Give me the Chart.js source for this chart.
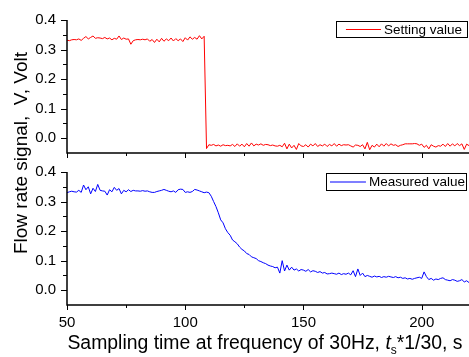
<!DOCTYPE html>
<html>
<head>
<meta charset="utf-8">
<script src="https://cdn.jsdelivr.net/npm/chart.js@4.4.0/dist/chart.umd.min.js"></script>
<style>
  html, body { margin: 0; padding: 0; background: #fff; }
  #wrap { position: relative; width: 469px; height: 357px; overflow: hidden;
          font-family: 'Liberation Sans', Arial, sans-serif; color: #000; }
  #wrap canvas { position: absolute; left: 0; top: 0; }
  .ytitle { position: absolute; left: -109.5px; top: 141px; width: 260px; height: 24px;
            line-height: 24px; text-align: center; font-size: 19px; white-space: pre;
            transform: rotate(-90deg); }
  .xtitle { position: absolute; left: 45px; top: 330px; width: 440px; height: 24px;
            line-height: 24px; text-align: center; font-size: 19.4px; white-space: pre; }
  .xtitle sub { font-size: 12px; vertical-align: -5px; line-height: 0; }
</style>
</head>
<body>
<div id="wrap">
  <canvas id="topChart" width="469" height="357"></canvas>
  <canvas id="bottomChart" width="469" height="357"></canvas>
  <div class="ytitle">Flow rate signal,  V, Volt</div>
  <div class="xtitle">Sampling time at frequency of 30Hz, <i>t</i><sub>s</sub>*1/30, s</div>
</div>
<script>
// ---- data ----
const TIME = [
  50, 51, 52, 53, 54, 55, 56, 57, 58, 59, 60, 61, 62, 63, 64, 65, 66, 67, 68, 69,
  70, 71, 72, 73, 74, 75, 76, 77, 78, 79, 80, 81, 82, 83, 84, 85, 86, 87, 88, 89,
  90, 91, 92, 93, 94, 95, 96, 97, 98, 99, 100, 101, 102, 103, 104, 105, 106, 107, 108, 109,
  110, 111, 112, 113, 114, 115, 116, 117, 118, 119, 120, 121, 122, 123, 124, 125, 126, 127, 128, 129,
  130, 131, 132, 133, 134, 135, 136, 137, 138, 139, 140, 141, 142, 143, 144, 145, 146, 147, 148, 149,
  150, 151, 152, 153, 154, 155, 156, 157, 158, 159, 160, 161, 162, 163, 164, 165, 166, 167, 168, 169,
  170, 171, 172, 173, 174, 175, 176, 177, 178, 179, 180, 181, 182, 183, 184, 185, 186, 187, 188, 189,
  190, 191, 192, 193, 194, 195, 196, 197, 198, 199, 200, 201, 202, 203, 204, 205, 206, 207, 208, 209,
  210, 211, 212, 213, 214, 215, 216, 217, 218, 219, 220
];

const SETTING = [
  0.332, 0.330, 0.333, 0.334, 0.333, 0.336, 0.331, 0.338, 0.344, 0.336,
  0.341, 0.346, 0.338, 0.340, 0.339, 0.337, 0.341, 0.336, 0.339, 0.333,
  0.338, 0.335, 0.346, 0.334, 0.339, 0.335, 0.336, 0.318, 0.330, 0.333,
  0.334, 0.333, 0.335, 0.333, 0.336, 0.328, 0.334, 0.324, 0.335, 0.326,
  0.338, 0.328, 0.336, 0.330, 0.339, 0.329, 0.337, 0.330, 0.336, 0.327,
  0.340, 0.332, 0.343, 0.335, 0.341, 0.335, 0.347, 0.336, 0.345,
  -0.035,
  -0.022, -0.024, -0.021, -0.026, -0.023, -0.027, -0.022, -0.025, -0.024, -0.026,
  -0.021, -0.028, -0.019, -0.027, -0.020, -0.029, -0.018, -0.027, -0.016, -0.026,
  -0.020, -0.023, -0.019, -0.024, -0.021, -0.022, -0.025, -0.023, -0.026, -0.027,
  -0.024, -0.029, -0.017, -0.036, -0.020, -0.033, -0.024, -0.038, -0.018, -0.026,
  -0.028, -0.022, -0.030, -0.020, -0.026, -0.018, -0.028, -0.022, -0.026, -0.020,
  -0.028, -0.021, -0.026, -0.018, -0.027, -0.020, -0.025, -0.022, -0.023, -0.022,
  -0.026, -0.030, -0.023, -0.024, -0.028, -0.022, -0.036, -0.014, -0.039, -0.024,
  -0.030, -0.020, -0.029, -0.019, -0.027, -0.018, -0.026, -0.019, -0.024, -0.022,
  -0.028, -0.024, -0.022, -0.019, -0.019, -0.019, -0.019, -0.018, -0.019, -0.024,
  -0.020, -0.031, -0.024, -0.036, -0.022, -0.027, -0.030, -0.025, -0.027, -0.020,
  -0.028, -0.018, -0.027, -0.019, -0.026, -0.018, -0.025, -0.019, -0.038, -0.020, -0.025
];

const MEASURED = [
  0.330, 0.333, 0.335, 0.333, 0.332, 0.338, 0.331, 0.356, 0.340, 0.350,
  0.326, 0.345, 0.334, 0.358, 0.338, 0.336, 0.335, 0.322, 0.340, 0.333,
  0.348, 0.338, 0.344, 0.326, 0.338, 0.333, 0.340, 0.334, 0.338, 0.336,
  0.336, 0.335, 0.337, 0.335, 0.336, 0.333, 0.331, 0.331, 0.334, 0.336,
  0.338, 0.341, 0.338, 0.335, 0.333, 0.336, 0.331, 0.340, 0.342, 0.341,
  0.331, 0.333, 0.331, 0.334, 0.341, 0.339, 0.336, 0.333, 0.330, 0.332,
  0.330, 0.318, 0.300, 0.283, 0.262, 0.238, 0.228, 0.208, 0.195, 0.186,
  0.170, 0.164, 0.157, 0.146, 0.138, 0.133, 0.124, 0.121, 0.113, 0.110,
  0.107, 0.100, 0.097, 0.093, 0.090, 0.085, 0.082, 0.080, 0.076, 0.078,
  0.058, 0.100, 0.065, 0.085, 0.068, 0.078, 0.068, 0.072, 0.065, 0.070,
  0.068, 0.064, 0.070, 0.062, 0.066, 0.064, 0.060, 0.063, 0.058, 0.060,
  0.055, 0.056, 0.058, 0.056, 0.054, 0.058, 0.053, 0.056, 0.054, 0.058,
  0.052, 0.066, 0.046, 0.072, 0.050, 0.058, 0.046, 0.050, 0.047, 0.044,
  0.048, 0.045, 0.047, 0.043, 0.046, 0.044, 0.047, 0.045, 0.043, 0.046,
  0.042, 0.044, 0.040, 0.042, 0.038, 0.040, 0.037, 0.040, 0.042, 0.044,
  0.040, 0.062, 0.046, 0.036, 0.040, 0.034, 0.038, 0.036, 0.040, 0.042,
  0.036, 0.034, 0.032, 0.036, 0.034, 0.030, 0.032, 0.036, 0.028, 0.032, 0.026
];

const X_TICKS = [50, 100, 150, 200];
const X_MINOR = [75, 125, 175];
const Y_TICKS = [0.0, 0.1, 0.2, 0.3, 0.4];
const Y_MINOR = [0.05, 0.15, 0.25, 0.35];

// ---- layout ----
const H = 357;
const FONT = "'Liberation Sans', Arial, sans-serif";

// Origin-style L axes with major / minor tick marks
const originAxes = {
  id: 'originAxes',
  afterDraw(chart) {
    const { ctx, chartArea: a, scales: { x, y } } = chart;
    ctx.save();
    ctx.strokeStyle = '#000';
    ctx.lineWidth = 1;
    ctx.beginPath();
    X_TICKS.forEach(v => { const p = Math.round(x.getPixelForValue(v)) + 0.5; ctx.moveTo(p, a.bottom); ctx.lineTo(p, a.bottom + 5); });
    X_MINOR.forEach(v => { const p = Math.round(x.getPixelForValue(v)) + 0.5; ctx.moveTo(p, a.bottom); ctx.lineTo(p, a.bottom + 3); });
    Y_TICKS.forEach(v => { const p = Math.round(y.getPixelForValue(v)) + 0.5; ctx.moveTo(a.left, p); ctx.lineTo(a.left - 6, p); });
    Y_MINOR.forEach(v => { const p = Math.round(y.getPixelForValue(v)) + 0.5; ctx.moveTo(a.left, p); ctx.lineTo(a.left - 4, p); });
    ctx.stroke();
    ctx.lineWidth = 1.5;
    ctx.beginPath();
    ctx.moveTo(a.left, a.top);
    ctx.lineTo(a.left, a.bottom);
    ctx.lineTo(a.right, a.bottom);
    ctx.stroke();
    ctx.restore();
  }
};

// boxed legend in the top right corner of the plot
const boxLegend = {
  id: 'boxLegend',
  afterDraw(chart, args, o) {
    const ds = chart.data.datasets[0];
    const { ctx, chartArea: a } = chart;
    ctx.save();
    ctx.font = '13.5px ' + FONT;
    const tw = ctx.measureText(ds.label).width;
    const w = o.padL + o.sample + o.gap + tw + o.padR;
    const right = a.right - o.dx, top = a.top + o.dy;
    const left = right - w;
    ctx.fillStyle = '#fff';
    ctx.fillRect(left, top, w, o.h);
    ctx.strokeStyle = '#000';
    ctx.lineWidth = 1;
    ctx.strokeRect(Math.round(left) + 0.5, top + 0.5, Math.round(w) - 1, o.h - 1);
    const cy = top + o.h / 2;
    ctx.strokeStyle = ds.borderColor;
    ctx.lineWidth = 1.2;
    ctx.beginPath();
    ctx.moveTo(left + o.padL, cy);
    ctx.lineTo(left + o.padL + o.sample, cy);
    ctx.stroke();
    ctx.fillStyle = '#000';
    ctx.textBaseline = 'middle';
    ctx.fillText(ds.label, left + o.padL + o.sample + o.gap, cy + 0.5);
    ctx.restore();
  }
};

function makePanel(id, label, values, color, area, showXLabels, legend) {
  return new Chart(document.getElementById(id), {
    type: 'line',
    data: {
      datasets: [{
        label,
        data: TIME.map((t, i) => ({ x: t, y: values[i] })),
        borderColor: color,
        borderWidth: 1,
        pointRadius: 0,
        tension: 0,
        fill: false,
      }],
    },
    options: {
      responsive: false,
      animation: false,
      events: [],
      layout: { padding: { left: 0, right: 0, top: area.top, bottom: H - area.bottom - area.xh } },
      scales: {
        x: {
          type: 'linear', min: 50, max: 220,
          afterBuildTicks: s => { s.ticks = X_TICKS.map(v => ({ value: v })); },
          afterFit: s => { s.height = area.xh; },
          grid: { display: false, drawTicks: false },
          border: { display: false },
          ticks: { display: showXLabels, padding: 9, color: '#000', maxRotation: 0, autoSkip: false,
                   font: { family: FONT, size: 15 } },
        },
        y: {
          type: 'linear', min: -0.05, max: 0.4,
          afterBuildTicks: s => { s.ticks = Y_TICKS.map(v => ({ value: v })); },
          afterFit: s => { s.width = 67; },
          grid: { display: false, drawTicks: false },
          border: { display: false },
          ticks: { padding: 11, color: '#000', callback: v => v.toFixed(1),
                   font: { family: FONT, size: 15 } },
        },
      },
      plugins: {
        legend: { display: false },
        tooltip: { enabled: false },
        boxLegend: legend,
      },
    },
    plugins: [originAxes, boxLegend],
  });
}

makePanel('topChart', 'Setting value', SETTING, '#ff0000',
  { top: 20, bottom: 153, xh: 10 }, false,
  { dx: 1, dy: 1, h: 17, padL: 10, sample: 35, gap: 3, padR: 6 });

makePanel('bottomChart', 'Measured value', MEASURED, '#0000ff',
  { top: 172, bottom: 305, xh: 30 }, true,
  { dx: 2, dy: 1, h: 18, padL: 4, sample: 36, gap: 3, padR: 2 });
</script>
</body>
</html>
